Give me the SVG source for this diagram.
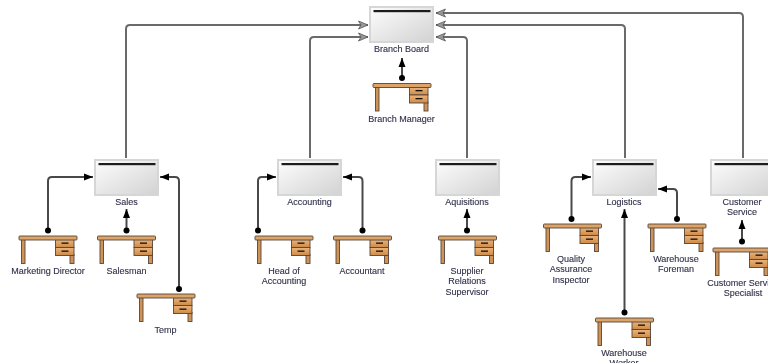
<svg xmlns="http://www.w3.org/2000/svg" xmlns:xlink="http://www.w3.org/1999/xlink" width="768" height="363" viewBox="0 0 768 363">
<style>
text{font-family:"Liberation Sans",Arial,sans-serif;font-size:9px;fill:#30304a;text-anchor:middle;stroke:#30304a;stroke-width:0.12}
.top{fill:none;stroke:#6a6a6a;stroke-width:2;marker-end:url(#open)}
.sub{fill:none;stroke:#4a4a4a;stroke-width:2;marker-start:url(#dot);marker-end:url(#tri)}
.line{stroke:#55453a;stroke-width:0.9}
</style>
<defs>
<filter id="soft" x="-2%" y="-2%" width="104%" height="104%"><feGaussianBlur stdDeviation="0.35"/></filter>
<linearGradient id="boxfill" x1="0" y1="0" x2="1" y2="1"><stop offset="0" stop-color="#fdfdfd"/><stop offset="1" stop-color="#d2d2d2"/></linearGradient>
<linearGradient id="wood" x1="0" y1="0" x2="0" y2="1"><stop offset="0" stop-color="#edb47a"/><stop offset="1" stop-color="#cd8a48"/></linearGradient>
<marker id="open" markerUnits="userSpaceOnUse" markerWidth="12" markerHeight="10" refX="10" refY="5" orient="auto"><path d="M0.5 1 L10 5 L0.5 9 L3 5Z" fill="#999" stroke="#555" stroke-width="0.8"/></marker>
<marker id="tri" markerUnits="userSpaceOnUse" markerWidth="10" markerHeight="9" refX="9" refY="4.500" orient="auto"><path d="M0 1 L9 4.500 L0 8Z" fill="#000"/></marker>
<marker id="dot" markerUnits="userSpaceOnUse" markerWidth="8" markerHeight="8" refX="4" refY="4"><circle cx="4" cy="4" r="3" fill="#000"/></marker>
<g id="desk">
<rect class="line" x="3" y="4" width="3.500" height="24" fill="#cf9358"/>
<rect class="line" x="51.500" y="19" width="4" height="9" fill="#cf9358"/>
<rect class="line" x="37" y="4" width="18.500" height="8" fill="url(#wood)"/>
<rect class="line" x="37" y="12" width="18.500" height="8" fill="url(#wood)"/>
<rect x="43" y="7" width="7" height="1.300" fill="#111"/>
<rect x="43" y="15" width="7" height="1.300" fill="#111"/>
<rect class="line" x="0.500" y="0.500" width="58" height="4" rx="0.800" fill="#dca468"/>
</g>
<g id="box">
<rect x="1" y="1" width="63" height="35" fill="url(#boxfill)" stroke="#d6d6d6" stroke-width="2"/>
<rect x="4.500" y="4" width="57" height="2.200" fill="#1c1c1c"/>
</g>
</defs>
<g filter="url(#soft)">
<g id="connectors">
<path class="top" d="M126 158V29Q126 25 130 25H368"/>
<path class="top" d="M310 158V41Q310 37 314 37H368"/>
<path class="top" d="M467 158V41Q467 37 463 37H436"/>
<path class="top" d="M625 158V29Q625 25 621 25H436"/>
<path class="top" d="M743 158V17Q743 13 739 13H436"/>
<path class="sub" d="M402 78V58"/>
<path class="sub" d="M126.500 230.500V209"/>
<path class="sub" d="M48 230.500V181Q48 177 52 177H93"/>
<path class="sub" d="M179 289V181Q179 177 175 177H160"/>
<path class="sub" d="M258 230.500V181Q258 177 262 177H276"/>
<path class="sub" d="M362.500 230.500V181Q362.500 177 358.500 177H343"/>
<path class="sub" d="M467 230.500V209"/>
<path class="sub" d="M571.500 219V181Q571.500 177 575.500 177H591"/>
<path class="sub" d="M677 219V193Q677 189 673 189H658"/>
<path class="sub" d="M624.500 312.500V209"/>
<path class="sub" d="M742 241.500V220"/>
</g>
<g id="branch-board"><use xlink:href="#box" href="#box" x="369" y="6"/><text x="401.500" y="52">Branch Board</text></g>
<g id="branch-manager"><use xlink:href="#desk" href="#desk" x="372.500" y="83"/><text x="401.500" y="122">Branch Manager</text></g>
<g id="sales"><use xlink:href="#box" href="#box" x="94" y="159"/><text x="126.500" y="205">Sales</text></g>
<g id="accounting"><use xlink:href="#box" href="#box" x="277" y="159"/><text x="309.500" y="205">Accounting</text></g>
<g id="aquisitions"><use xlink:href="#box" href="#box" x="435" y="159"/><text x="467" y="205">Aquisitions</text></g>
<g id="logistics"><use xlink:href="#box" href="#box" x="592" y="159"/><text x="624" y="205">Logistics</text></g>
<g id="customer-service"><use xlink:href="#box" href="#box" x="710" y="159"/><text x="742" y="205">Customer</text><text x="742" y="215">Service</text></g>
<g id="marketing-director"><use xlink:href="#desk" href="#desk" x="18.500" y="235.500"/><text x="48" y="274">Marketing Director</text></g>
<g id="salesman"><use xlink:href="#desk" href="#desk" x="97" y="235.500"/><text x="126.500" y="274">Salesman</text></g>
<g id="temp"><use xlink:href="#desk" href="#desk" x="136.500" y="293.500"/><text x="165.500" y="333">Temp</text></g>
<g id="head-of-accounting"><use xlink:href="#desk" href="#desk" x="254.500" y="235.500"/><text x="284" y="274">Head of</text><text x="284" y="284">Accounting</text></g>
<g id="accountant"><use xlink:href="#desk" href="#desk" x="333" y="235.500"/><text x="362" y="274">Accountant</text></g>
<g id="supplier-relations-supervisor"><use xlink:href="#desk" href="#desk" x="438" y="235.500"/><text x="467" y="274">Supplier</text><text x="467" y="284">Relations</text><text x="467" y="295">Supervisor</text></g>
<g id="quality-assurance-inspector"><use xlink:href="#desk" href="#desk" x="543" y="223.500"/><text x="571" y="262">Quality</text><text x="571" y="272">Assurance</text><text x="571" y="283">Inspector</text></g>
<g id="warehouse-foreman"><use xlink:href="#desk" href="#desk" x="647.500" y="223.500"/><text x="676" y="262">Warehouse</text><text x="676" y="272">Foreman</text></g>
<g id="warehouse-worker"><use xlink:href="#desk" href="#desk" x="595" y="317.500"/><text x="624" y="356">Warehouse</text><text x="624" y="366">Worker</text></g>
<g id="customer-service-specialist"><use xlink:href="#desk" href="#desk" x="712.500" y="247.500"/><text x="743" y="286">Customer Service</text><text x="743" y="296">Specialist</text></g>
</g>
</svg>
